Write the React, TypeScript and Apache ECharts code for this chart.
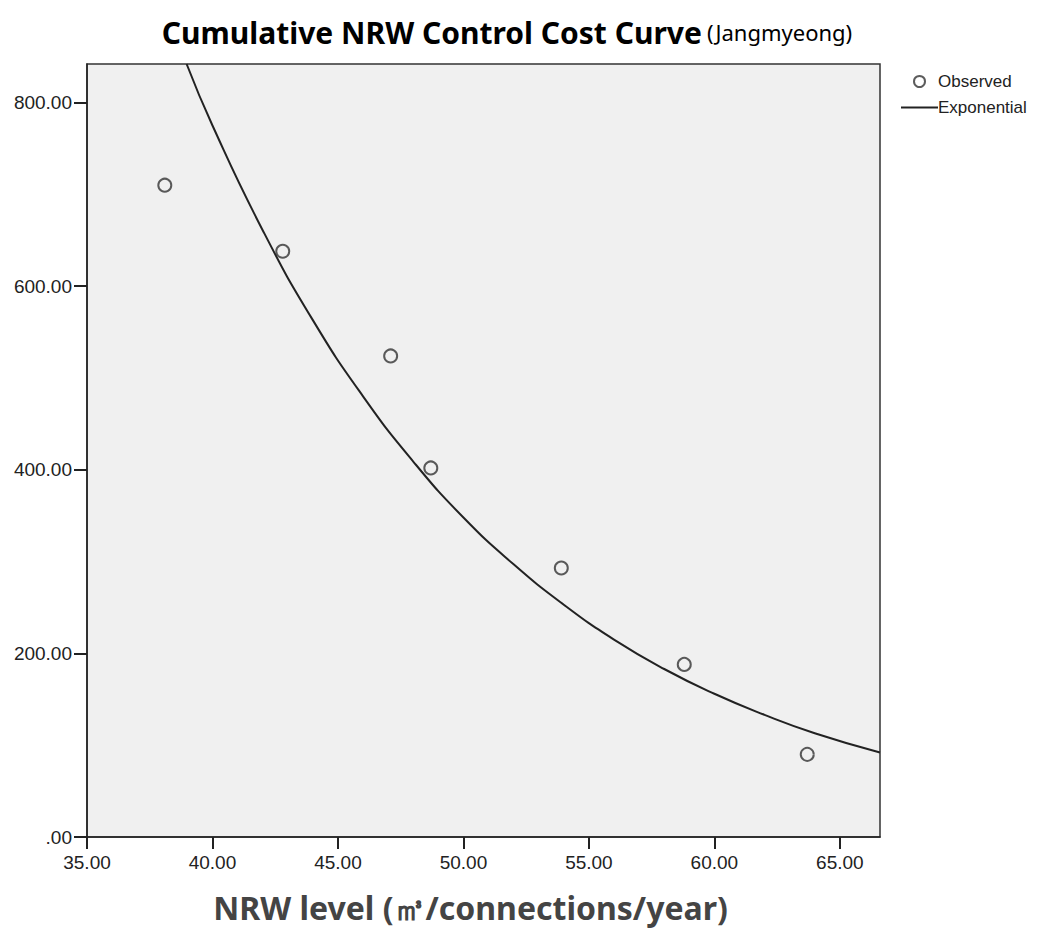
import React, { useEffect, useRef } from "react";
import * as echarts from "echarts";

const observedX = [38.1, 42.8, 47.1, 48.7, 53.9, 58.8, 63.7];
const observedY = [710, 638, 524, 402, 293, 188, 90];

const curveX = [38.97, 40, 42, 44, 46, 48, 50, 52, 54, 56, 58, 60, 62, 64, 66.6];
const curveY = [842, 775, 661, 563, 480, 409, 348, 297, 253, 215, 183, 156, 133, 113, 92];

const xTicks = { min: 35, max: 66.6, interval: 5 };
const yTicks = { min: 0, max: 842, interval: 200 };

const fmt = (v: number) => (v === 0 ? ".00" : v.toFixed(2));

export default function App() {
  const ref = useRef<HTMLDivElement>(null);
  useEffect(() => {
    if (!ref.current) return;
    const chart = echarts.init(ref.current, undefined, { renderer: "svg" });
    const axisFont = { fontFamily: "Liberation Sans", fontSize: 19, color: "#222" };
    chart.setOption({
      animation: false,
      backgroundColor: "#ffffff",
      title: {
        text: "{b|Cumulative NRW Control Cost Curve} {n|(Jangmyeong)}",
        left: 502,
        textAlign: "center",
        top: 12,
        textStyle: {
          rich: {
            b: { fontFamily: "Noto Sans", fontWeight: "bold", fontSize: 30, color: "#000" },
            n: { fontFamily: "Noto Sans", fontWeight: "normal", fontSize: 22, color: "#000" },
          },
        },
      },
      legend: {
        orient: "vertical",
        left: 895,
        top: 68,
        itemWidth: 37,
        itemHeight: 11,
        itemGap: 9,
        textStyle: { fontFamily: "Liberation Sans", fontSize: 17, color: "#222", padding: [0, 0, 0, -5] },
        data: [
          { name: "Observed", itemStyle: { color: "transparent", borderColor: "#333", borderWidth: 2 } },
          { name: "Exponential", itemStyle: { color: "transparent", borderWidth: 0, opacity: 0 } },
        ],
      },
      grid: {
        left: 87,
        top: 64,
        right: 162,
        bottom: 106,
        show: true,
        backgroundColor: "#f0f0f0",
        borderColor: "#333",
        borderWidth: 1.5,
      },
      xAxis: {
        type: "value",
        min: xTicks.min,
        max: xTicks.max,
        interval: xTicks.interval,
        name: "NRW level (㎥/connections/year)",
        nameLocation: "middle",
        nameGap: 54,
        nameTextStyle: {
          fontFamily: "Noto Sans",
          fontWeight: "bold",
          fontSize: 32,
          color: "#444",
          padding: [0, 26, 0, 0],
        },
        axisLine: { show: true, onZero: false, lineStyle: { color: "#222", width: 1.5 } },
        axisTick: { show: true, length: 12, lineStyle: { color: "#222", width: 2 } },
        axisLabel: { ...axisFont, margin: 16, formatter: fmt, showMaxLabel: false },
        splitLine: { show: false },
      },
      yAxis: {
        type: "value",
        min: yTicks.min,
        max: yTicks.max,
        interval: yTicks.interval,
        axisLine: { show: true, lineStyle: { color: "#222", width: 1.5 } },
        axisTick: { show: true, length: 13, lineStyle: { color: "#222", width: 2 } },
        axisLabel: { ...axisFont, margin: 15, formatter: fmt, showMaxLabel: false },
        splitLine: { show: false },
      },
      series: [
        {
          name: "Observed",
          type: "scatter",
          symbol: "circle",
          symbolSize: 13,
          itemStyle: { color: "transparent", borderColor: "#333", borderWidth: 2 },
          data: observedX.map((x, i) => [x, observedY[i]]),
          z: 3,
        },
        {
          name: "Exponential",
          type: "line",
          smooth: true,
          showSymbol: false,
          symbol: "none",
          clip: true,
          lineStyle: { color: "#222", width: 2 },
          itemStyle: { color: "#222" },
          data: curveX.map((x, i) => [x, curveY[i]]),
          z: 2,
        },
      ],
    });
    return () => chart.dispose();
  }, []);
  return <div ref={ref} style={{ width: 1042, height: 943, position: "absolute", left: 0, top: 0 }} />;
}
